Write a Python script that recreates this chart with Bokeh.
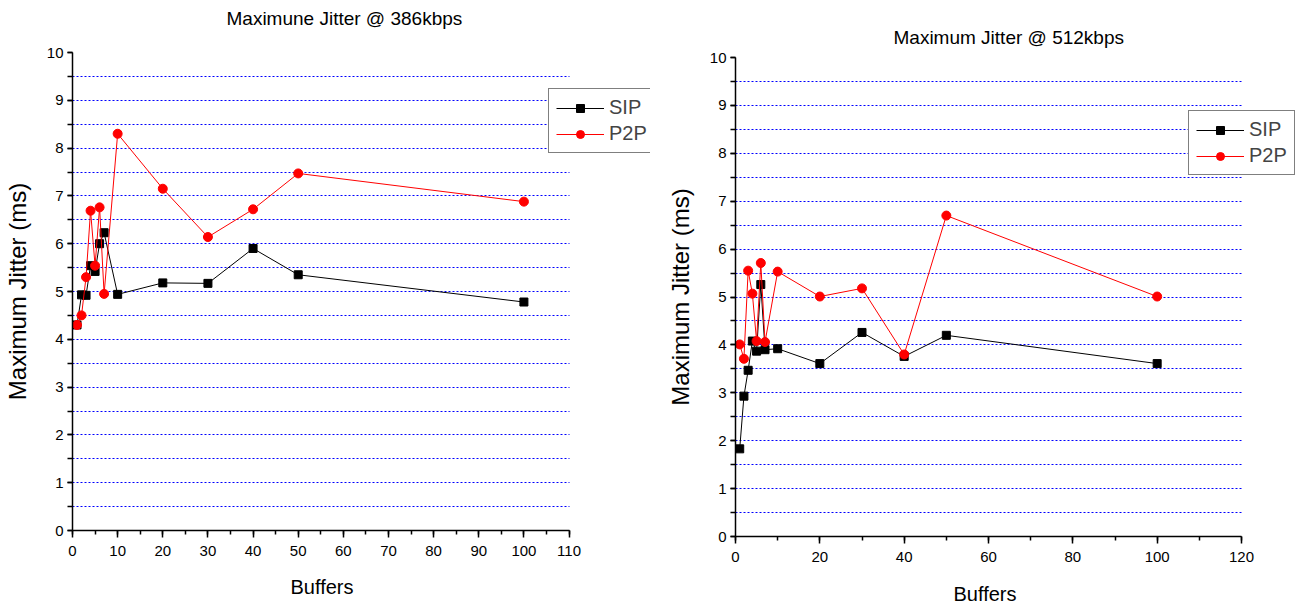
from bokeh.plotting import figure
from bokeh.models import Range1d, SingleIntervalTicker, FixedTicker, Legend, LegendItem, Title
from bokeh.layouts import row, column
from bokeh.embed import file_html
from bokeh.resources import INLINE

# ---- data ----
buffers = [1, 2, 3, 4, 5, 6, 7, 10, 20, 30, 40, 50, 100]
sip_386 = [4.30, 4.93, 4.92, 5.54, 5.42, 6.00, 6.23, 4.94, 5.18, 5.17, 5.90, 5.35, 4.78]
p2p_386 = [4.30, 4.50, 5.30, 6.69, 5.54, 6.76, 4.95, 8.30, 7.15, 6.14, 6.72, 7.47, 6.88]
sip_512 = [1.83, 2.93, 3.47, 4.08, 3.87, 5.26, 3.90, 3.92, 3.61, 4.26, 3.76, 4.20, 3.61]
p2p_512 = [4.01, 3.71, 5.55, 5.07, 4.08, 5.71, 4.06, 5.53, 5.01, 5.18, 3.80, 6.70, 5.01]
series_names = ["SIP", "P2P"]
titles = ["Maximune Jitter @ 386kbps", "Maximum Jitter @ 512kbps"]
x_label = "Buffers"
y_label = "Maximum Jitter (ms)"

FONT = "Liberation Sans"


def make(title, sip, p2p, xmax, xint, width, borders, axis_px, frame_px,
         title_offset, title_lift, xlabel_offset, xlabel_drop, legend_loc):
    bl, br, bt, bb = borders
    # frame is widened past the axis end so the legend (which sticks out
    # past the axis end in the reference) is not clipped; axis/grid are bounded.
    x_end = xmax * frame_px / axis_px
    p = figure(width=width, height=607, x_range=Range1d(0, x_end), y_range=Range1d(0, 10),
               output_backend="svg", toolbar_location=None,
               min_border_left=bl, min_border_right=br, min_border_top=bt, min_border_bottom=bb)
    p.outline_line_color = None
    p.background_fill_color = "white"
    p.border_fill_color = "white"

    t = Title(text=title, text_font=FONT, text_font_size="19px", text_font_style="normal",
              text_color="black", align="left", offset=title_offset, standoff=0,
              vertical_align="bottom", padding=(0, 0, 0, title_lift))
    p.add_layout(t, "above")

    p.xaxis.ticker = SingleIntervalTicker(interval=xint, num_minor_ticks=2)
    p.yaxis.ticker = SingleIntervalTicker(interval=1, num_minor_ticks=2)
    p.xaxis.bounds = (0, xmax)
    for ax in (p.xaxis, p.yaxis):
        ax.axis_line_color = "black"
        ax.axis_line_width = 1.5
        ax.major_tick_line_color = "black"
        ax.minor_tick_line_color = "black"
        ax.major_tick_line_width = 1.5
        ax.minor_tick_line_width = 1.5
        ax.major_tick_in = 0
        ax.minor_tick_in = 0
        ax.major_label_text_font = FONT
        ax.major_label_text_font_size = "15px"
        ax.major_label_text_color = "black"
        ax.axis_label_text_font = FONT
        ax.axis_label_text_font_style = "normal"
        ax.axis_label_text_color = "black"
    p.xaxis.major_tick_out = 7
    p.xaxis.minor_tick_out = 4
    p.yaxis.major_tick_out = 5
    p.yaxis.minor_tick_out = 5
    p.xaxis.major_label_standoff = 8
    p.yaxis.major_label_standoff = 4
    p.yaxis.axis_label = y_label
    p.yaxis.axis_label_text_font_size = "24px"
    p.yaxis.axis_label_standoff = 13

    # x-axis title, centred under the axis (not under the widened frame)
    xt = Title(text=x_label, text_font=FONT, text_font_size="20px", text_font_style="normal",
               text_color="black", align="left", offset=xlabel_offset, standoff=0,
               vertical_align="top", padding=(0, 0, xlabel_drop, 0))
    p.add_layout(xt, "below")

    p.xgrid.visible = False
    p.ygrid.ticker = FixedTicker(ticks=[k * 0.5 for k in range(1, 20)])
    p.ygrid.grid_line_color = "#0000ff"
    p.ygrid.grid_line_dash = "2 2"
    p.ygrid.grid_line_width = 1
    try:
        p.ygrid.cross_bounds = (0, xmax)
    except AttributeError:
        pass

    l1 = p.line(buffers, sip, line_color="black", line_width=1)
    s1 = p.scatter(buffers, sip, marker="square", size=8, fill_color="black", line_color="black")
    l2 = p.line(buffers, p2p, line_color="#ff0000", line_width=1)
    s2 = p.scatter(buffers, p2p, marker="circle", size=9, fill_color="#ff0000", line_color="#ff0000")

    legend = Legend(items=[LegendItem(label=series_names[0], renderers=[l1, s1]),
                           LegendItem(label=series_names[1], renderers=[l2, s2])],
                    location=legend_loc)
    legend.border_line_color = "black"
    legend.border_line_width = 1
    legend.background_fill_color = "white"
    legend.background_fill_alpha = 1
    legend.label_text_font = FONT
    legend.label_text_font_size = "20px"
    legend.glyph_width = 48
    legend.glyph_height = 20
    legend.padding = 7
    legend.spacing = 3
    legend.label_standoff = 5
    legend.margin = 0
    p.add_layout(legend)
    return p


p1 = make(titles[0], sip_386, p2p_386, 110, 10, 650, (68, 0, 52, 77), 500, 582,
          154, 24, 218, 17, (476, 377))
p2 = make(titles[1], sip_512, p2p_512, 120, 20, 648, (85, 0, 57, 71), 506, 563,
          158, 10, 218, 18, (453, 361))

layout = row(column(p1), column(p2))
open("out.html", "w").write(file_html(layout, INLINE))
